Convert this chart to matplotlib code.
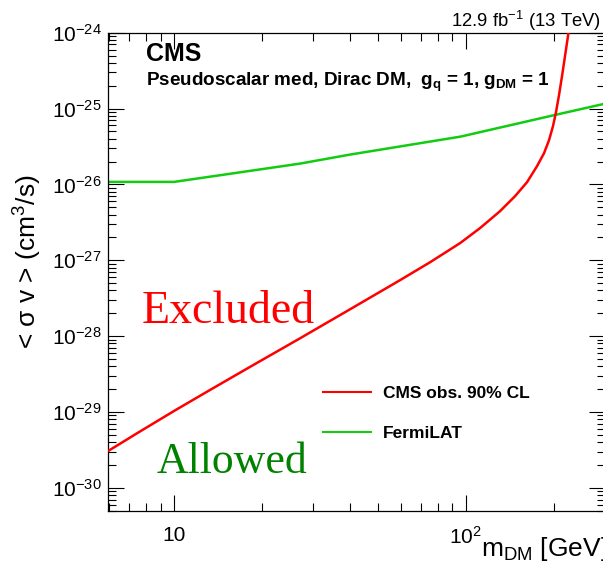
import matplotlib
matplotlib.use("Agg")
import matplotlib.pyplot as plt
from matplotlib.ticker import FixedLocator, NullFormatter

plt.rcParams['font.family'] = ['Liberation Sans', 'DejaVu Sans']
plt.rcParams['mathtext.fontset'] = 'custom'
plt.rcParams['mathtext.rm'] = 'Liberation Sans'
plt.rcParams['mathtext.it'] = 'Liberation Sans:italic'
plt.rcParams['mathtext.bf'] = 'Liberation Sans:bold'
plt.rcParams['mathtext.default'] = 'regular'

# ---- data ----
cms_mass = [5.98, 7.64, 10.07, 13.27, 18.2, 27.0, 40.1, 59.5, 75.4, 95.5, 111.8, 131,
            147.5, 162.1, 175.4, 185.4, 192.9, 199.0, 203.8, 208.7, 213.7, 218.8, 224.0, 227.6]
cms_sigv = [3.11e-30, 5.54e-30, 1.05e-29, 1.95e-29, 3.93e-29, 9.35e-29, 2.26e-28, 5.47e-28,
            9.42e-28, 1.68e-27, 2.65e-27, 4.44e-27, 7.0e-27, 1.07e-26, 1.74e-26, 2.58e-26,
            3.84e-26, 5.87e-26, 8.98e-26, 1.51e-25, 2.68e-25, 4.92e-25, 9.04e-25, 1.38e-24]

fermi_mass = [5.92, 10, 27, 40, 96, 204, 300]
fermi_sigv = [1.08e-26, 1.08e-26, 1.88e-26, 2.47e-26, 4.27e-26, 8.3e-26, 1.16e-25]

x_major = [10, 100]
x_major_labels = ['10', '$10^{2}$']
x_minor = [6, 7, 8, 9, 20, 30, 40, 50, 60, 70, 80, 90, 200, 300]
y_major = [1e-30, 1e-29, 1e-28, 1e-27, 1e-26, 1e-25, 1e-24]
y_major_labels = ['$10^{-30}$', '$10^{-29}$', '$10^{-28}$', '$10^{-27}$',
                  '$10^{-26}$', '$10^{-25}$', '$10^{-24}$']
series_labels = ['CMS obs. 90% CL', 'FermiLAT']

W, H = 603, 565
fig = plt.figure(figsize=(W / 100, H / 100), dpi=100)

def fx(x):
    return x / W

def fy(y):
    return 1 - y / H

ax_l, ax_r, ax_t, ax_b = 107.7, 605, 32.7, 510.7
ax = fig.add_axes([fx(ax_l), fy(ax_b), (ax_r - ax_l) / W, (ax_b - ax_t) / H])
ax.set_xscale('log')
ax.set_yscale('log')
ax.set_xlim(5.92, 300)
ax.set_ylim(5e-31, 1e-24)

ax.plot(cms_mass, cms_sigv, color='#ff0000', lw=1.8, label=series_labels[0], zorder=3)
ax.plot(fermi_mass, fermi_sigv, color='#11cc11', lw=1.8, label=series_labels[1], zorder=2)

# ticks
ax.xaxis.set_major_locator(FixedLocator(x_major))
ax.set_xticklabels(x_major_labels)
ax.xaxis.set_minor_locator(FixedLocator(x_minor))
ax.xaxis.set_minor_formatter(NullFormatter())
ax.yaxis.set_major_locator(FixedLocator(y_major))
ax.set_yticklabels(y_major_labels)
ymin_list = [m * 10.0 ** e for e in range(-31, -24) for m in range(2, 10)]
ax.yaxis.set_minor_locator(FixedLocator(ymin_list))
ax.yaxis.set_minor_formatter(NullFormatter())

ax.tick_params(which='both', direction='in', top=True, right=True, width=0.8, colors='black')
ax.tick_params(which='major', length=11.5)
ax.tick_params(which='minor', length=5.8)
ax.tick_params(axis='y', which='major', pad=4.3, labelsize=15)
ax.tick_params(axis='x', which='major', pad=11, labelsize=15)
for s in ax.spines.values():
    s.set_linewidth(0.9)

# axis titles
fig.text(fx(28), fy(262), '< σ v > (cm$^{3}$/s)', rotation=90, ha='center', va='center', fontsize=19)
fig.text(fx(481), fy(556), 'm$_{DM}$ [GeV]', ha='left', va='baseline', fontsize=19)

# header texts
fig.text(fx(601.5), fy(27), '12.9 fb$^{-1}$ (13 TeV)', ha='right', va='baseline', fontsize=13.3)
fig.text(fx(146), fy(61), 'CMS', ha='left', va='baseline', fontsize=18, fontweight='bold')
fig.text(fx(146), fy(86), r'Pseudoscalar med, Dirac DM,  $\mathbf{g_{q}}$ = 1, $\mathbf{g_{DM}}$ = 1',
         ha='left', va='baseline', fontsize=13.6, fontweight='bold')

fig.text(fx(142), fy(323.3), 'Excluded', ha='left', va='baseline', fontsize=33,
         color='#ff0000', family='Liberation Serif')
fig.text(fx(157), fy(473.3), 'Allowed', ha='left', va='baseline', fontsize=31.5,
         color='#008200', family='Liberation Serif')

leg = ax.legend(loc='upper left', bbox_to_anchor=(fx(323), fy(386)), bbox_transform=fig.transFigure,
                frameon=False, borderpad=0, borderaxespad=0, handlelength=2.75,
                handletextpad=0.7, labelspacing=1.4, prop={'size': 12.5, 'weight': 'bold'})
for lh in leg.get_lines():
    lh.set_linewidth(1.5)

fig.savefig('out.png', dpi=100)
